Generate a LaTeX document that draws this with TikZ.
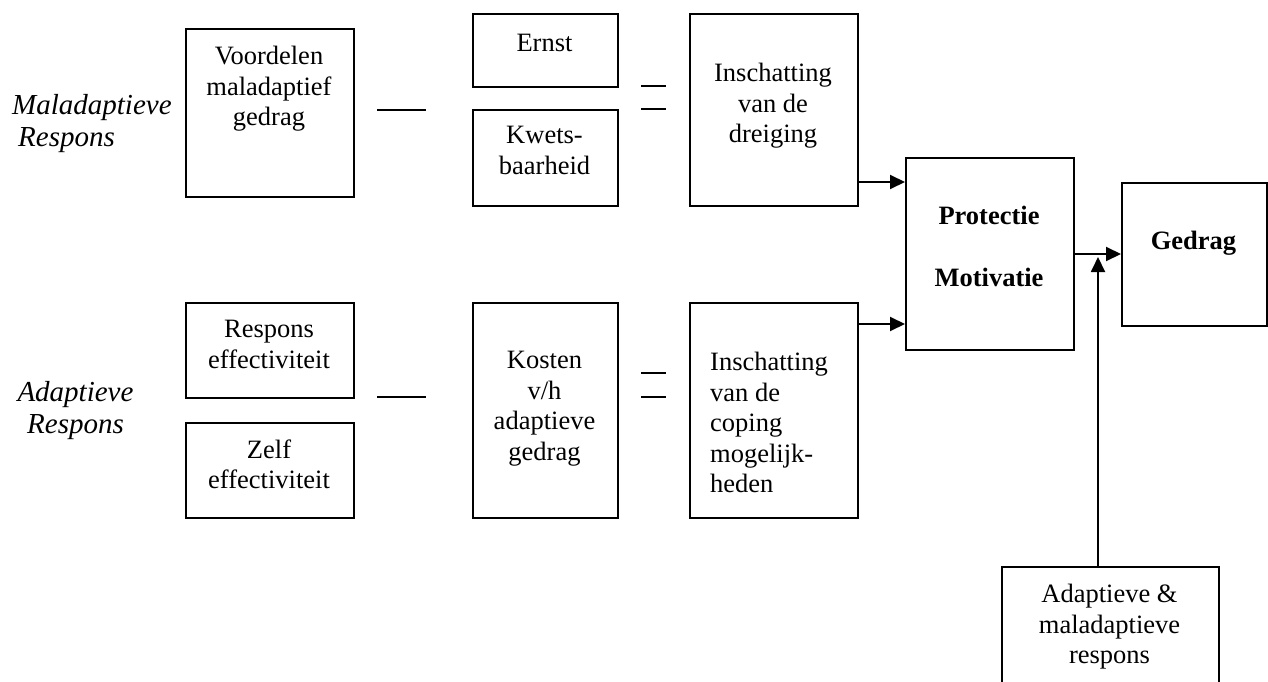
\documentclass[tikz,border=0pt]{standalone}
\usepackage{fontspec}
\setmainfont{Liberation Serif}
\usetikzlibrary{arrows.meta}
\tikzset{
  box/.style={draw, line width=1.9pt, rectangle, inner sep=0pt, anchor=north west},
  txt/.style={font=\fontsize{26.5}{30.5}\selectfont, align=center, inner sep=0pt, anchor=north, execute at begin node=\strut},
  btxt/.style={txt, font=\fontsize{26.5}{30.5}\selectfont\bfseries},
  ital/.style={font=\fontsize{29}{32}\selectfont\itshape, inner sep=0pt, execute at begin node=\strut},
  arr/.style={line width=1.9pt, -{Triangle[length=15pt,width=14pt]}},
  opline/.style={line width=1.9pt},
}
\begin{document}
\begin{tikzpicture}[x=1pt,y=-1pt]
\useasboundingbox (0,0) rectangle (1268,682);

% side labels
\node[ital, align=left, anchor=north west] (lblmal) at (12,94.6) {Maladaptieve\\\hspace*{6pt}Respons};
\node[ital, align=center, anchor=north] (lbladp) at (75.5,381.6) {Adaptieve\\Respons};

% boxes
\node[box, minimum width=168pt, minimum height=168pt] (voordelen) at (185,28) {};
\node[box, minimum width=145pt, minimum height=73pt]  (ernst)     at (472,13) {};
\node[box, minimum width=145pt, minimum height=96pt]  (kwets)     at (472,109) {};
\node[box, minimum width=168pt, minimum height=192pt] (dreiging)  at (689,13) {};
\node[box, minimum width=168pt, minimum height=192pt] (protectie) at (905,157) {};
\node[box, minimum width=145pt, minimum height=143pt] (gedrag)    at (1121,182) {};
\node[box, minimum width=168pt, minimum height=95pt]  (respeff)   at (185,302) {};
\node[box, minimum width=168pt, minimum height=95pt]  (zelfeff)   at (185,422) {};
\node[box, minimum width=145pt, minimum height=215pt] (kosten)    at (472,302) {};
\node[box, minimum width=168pt, minimum height=215pt] (coping)    at (689,302) {};
\node[box, minimum width=217pt, minimum height=126pt] (adresp)    at (1001,566) {};

% box texts
\node[txt] (tvoordelen) at (269,46.4) {Voordelen\\maladaptief\\gedrag};
\node[txt] (ternst) at (544.5,30.4) {Ernst};
\node[txt] (tkwets) at (544.5,126.4) {Kwets-\\baarheid};
\node[txt] (tdreiging) at (773,63.4) {Inschatting\\van de\\dreiging};
\node[btxt] (tprotectie) at (989,206.4) {Protectie\\[31pt]Motivatie};
\node[btxt] (tgedrag) at (1193.5,228.4) {Gedrag};
\node[txt] (trespeff) at (269,320) {Respons\\effectiviteit};
\node[txt] (tzelfeff) at (269,439.4) {Zelf\\effectiviteit};
\node[txt] (tkosten) at (544.5,351.4) {Kosten\\v/h\\adaptieve\\gedrag};
\node[txt, align=left, anchor=north west] (tcoping) at (710,352.4) {Inschatting\\van de\\coping\\mogelijk-\\heden};
\node[txt] (tadresp) at (1109.5,584.4) {Adaptieve \&\\maladaptieve\\respons};

% operator signs
\coordinate (m1a) at (377,110); \coordinate (m1b) at (426,110);
\coordinate (m2a) at (377,397); \coordinate (m2b) at (426,397);
\coordinate (e1a) at (641,86);  \coordinate (e1b) at (666,86);
\coordinate (e2a) at (641,109); \coordinate (e2b) at (666,109);
\coordinate (e3a) at (641,373); \coordinate (e3b) at (666,373);
\coordinate (e4a) at (641,397); \coordinate (e4b) at (666,397);
\draw[opline] (m1a) -- (m1b);
\draw[opline] (m2a) -- (m2b);
\draw[opline] (e1a) -- (e1b);
\draw[opline] (e2a) -- (e2b);
\draw[opline] (e3a) -- (e3b);
\draw[opline] (e4a) -- (e4b);

% arrows
\draw[arr] (dreiging.east |- 0,182) -- (protectie.west |- 0,182);
\draw[arr] (coping.east |- 0,324) -- (protectie.west |- 0,324);
\draw[arr] (protectie.east |- 0,254) -- (gedrag.west |- 0,254);
\draw[arr] (adresp.north -| 1098,0) -- (1098,257);
\end{tikzpicture}
\end{document}
